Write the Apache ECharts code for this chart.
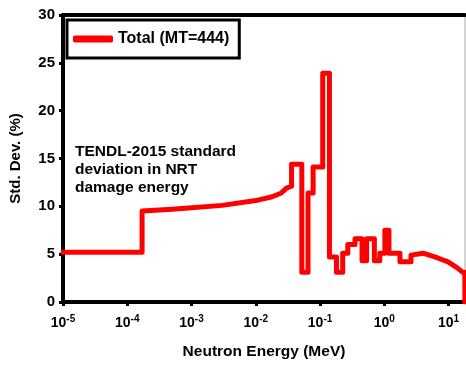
<!DOCTYPE html>
<html>
<head>
<meta charset="utf-8">
<script src="https://cdn.jsdelivr.net/npm/echarts@6/dist/echarts.min.js"></script>
<style>
  html, body { margin: 0; padding: 0; background: #fff; }
  #chart { width: 466px; height: 366px; }
</style>
</head>
<body>
<div id="chart"></div>
<script>
// vertices of the curve: neutron energy (MeV)
// a repeated energy is a vertical jump between two groups
const energy = [1e-5, 1.7e-4, 1.7e-4, 5e-4, 1e-3, 3e-3, 1e-2, 0.018, 0.025, 0.030,
  0.030, 0.036, 0.036, 0.052, 0.052, 0.065, 0.065, 0.078, 0.078, 0.11,
  0.11, 0.14, 0.14, 0.18, 0.18, 0.225, 0.225, 0.27, 0.27, 0.35,
  0.35, 0.45, 0.45, 0.53, 0.53, 0.7, 0.7, 0.85, 0.85, 1.02,
  1.02, 1.18, 1.18, 1.75, 1.75, 2.6, 2.6, 4.0, 6.8, 9.8,
  13.5, 16.6, 17.9, 17.9];
// std. dev. (%) at those vertices
const stdDev = [5.2, 5.2, 9.5, 9.7, 9.85, 10.1, 10.6, 11.0, 11.4, 11.9,
  12.1, 12.1, 14.4, 14.4, 3.1, 3.1, 11.4, 11.4, 14.1, 14.1,
  23.9, 23.9, 4.7, 4.7, 3.1, 3.1, 5.1, 5.1, 6.0, 6.0,
  6.6, 6.6, 4.3, 4.3, 6.6, 6.6, 4.3, 4.3, 5.1, 5.1,
  7.5, 7.5, 5.1, 5.1, 4.2, 4.2, 4.9, 5.1, 4.6, 4.2,
  3.6, 3.1, 3.1, 0];
const yTicks = [0, 5, 10, 15, 20, 25, 30];

const font = "'Liberation Sans', Arial, sans-serif";
const chart = echarts.init(document.getElementById("chart"));

const option = {
  animation: false,
  textStyle: { fontFamily: font },
  grid: {
    left: 63, top: 15, right: 1, bottom: 64,
    show: true, borderColor: "#aaa", borderWidth: 1,
  },
  legend: {
    left: 67, top: 20,
    padding: [11, 10, 11, 6],
    borderColor: "#000", borderWidth: 3,
    icon: "roundRect", itemWidth: 40, itemHeight: 7, itemGap: 6,
    textStyle: { fontSize: 16, fontWeight: "bold", color: "#000", fontFamily: font },
    data: ["Total (MT=444)"],
  },
  graphic: [
    {
      type: "text", left: 75, top: 143,
      style: {
        text: "TENDL-2015 standard\ndeviation in NRT\ndamage energy",
        font: "bold 15.5px " + font, lineHeight: 18, fill: "#000",
      },
    },
  ],
  xAxis: [
    {
      type: "log", min: 1e-5, max: 18, logBase: 10,
      name: "Neutron Energy (MeV)", nameLocation: "middle", nameGap: 42,
      nameTextStyle: { fontSize: 15.5, fontWeight: "bold", color: "#000" },
      axisLine: { lineStyle: { color: "#000", width: 4 } },
      axisTick: { length: 4, lineStyle: { color: "#000", width: 3 } },
      splitLine: { show: false },
      minorTick: { show: false },
      axisLabel: {
        margin: 12, showMaxLabel: false,
        formatter: (v) => {
          const p = Math.round(Math.log10(v));
          if (Math.abs(Math.log10(v) - p) > 1e-6) return "";
          return "{b|10}{s|" + p + "}";
        },
        rich: {
          b: { fontSize: 14, fontWeight: "bold", color: "#000", fontFamily: font },
          s: { fontSize: 10, fontWeight: "bold", color: "#000", fontFamily: font, padding: [0, 0, 8, 0] },
        },
      },
    },
    {
      type: "log", min: 1e-5, max: 18, position: "top",
      axisLine: { lineStyle: { color: "#000", width: 4 } },
      axisTick: { show: false }, axisLabel: { show: false }, splitLine: { show: false },
    },
  ],
  yAxis: {
    type: "value", min: yTicks[0], max: yTicks[yTicks.length - 1], interval: 5,
    name: "Std. Dev. (%)", nameLocation: "middle", nameGap: 40,
    nameTextStyle: { fontSize: 15, fontWeight: "bold", color: "#000" },
    axisLine: { show: true, lineStyle: { color: "#000", width: 4 } },
    axisTick: { show: true, length: 4, lineStyle: { color: "#000", width: 3 } },
    splitLine: { show: false },
    axisLabel: { fontSize: 15, fontWeight: "bold", color: "#000", margin: 8 },
  },
  series: [
    {
      name: "Total (MT=444)",
      type: "line",
      symbol: "none",
      color: "#ff0000",
      lineStyle: { color: "#ff0000", width: 5, cap: "round", join: "round" },
      data: energy.map((e, i) => [e, stdDev[i]]),
    },
  ],
};

chart.setOption(option);
</script>
</body>
</html>
